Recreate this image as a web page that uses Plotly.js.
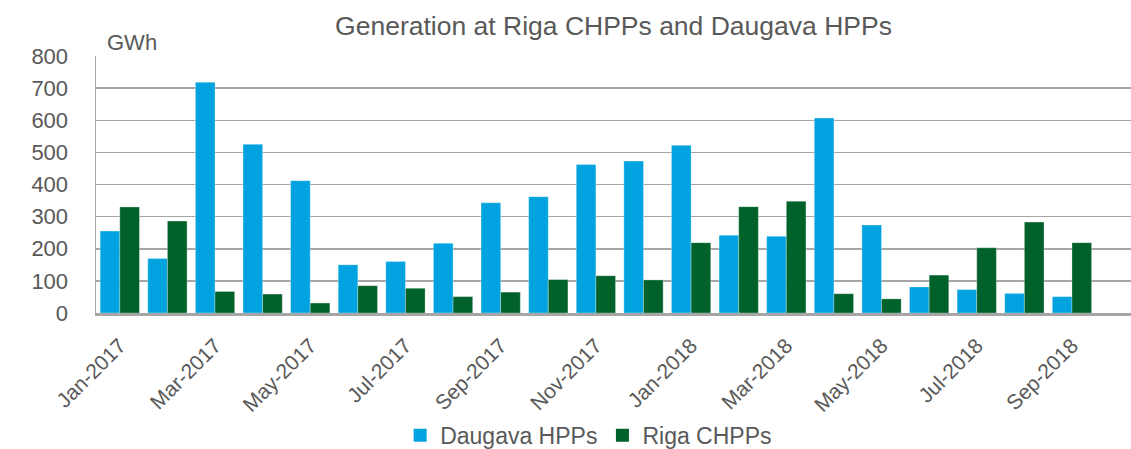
<!DOCTYPE html>
<html>
<head>
<meta charset="utf-8">
<script src="https://cdn.plot.ly/plotly-3.0.1.min.js"></script>
<style>html,body{margin:0;padding:0;background:#fff;}#chart{width:1131px;height:449px;}</style>
</head>
<body>
<div id="chart"></div>
<script>
const months = ["Jan-2017","Feb-2017","Mar-2017","Apr-2017","May-2017","Jun-2017","Jul-2017","Aug-2017","Sep-2017","Oct-2017","Nov-2017","Dec-2017","Jan-2018","Feb-2018","Mar-2018","Apr-2018","May-2018","Jun-2018","Jul-2018","Aug-2018","Sep-2018"];
const daugavaHPPs = [255,170,718,525,412,150,160,217,343,362,462,473,522,242,239,607,274,81,73,61,51];
const rigaCHPPs = [330,286,67,59,31,85,77,51,65,104,116,103,219,331,348,60,44,118,203,283,219];
const tickLabels = ["Jan-2017","Mar-2017","May-2017","Jul-2017","Sep-2017","Nov-2017","Jan-2018","Mar-2018","May-2018","Jul-2018","Sep-2018"];
const yTicks = [0,100,200,300,400,500,600,700,800];
const seriesNames = ["Daugava HPPs","Riga CHPPs"];
const seriesColors = ["#00a3e0","#00612a"];

const txt = '#595959';
const font = 'Liberation Sans, Arial, sans-serif';

const values = [daugavaHPPs, rigaCHPPs];
const data = [];
values.forEach((v,i)=>{
  data.push({type:'bar', name:seriesNames[i], x:months, y:v, showlegend:false,
   marker:{color:seriesColors[i], line:{color:'rgba(255,255,255,0.5)', width:0.6}}});
});
values.forEach((v,i)=>{
  data.push({type:'scatter', mode:'markers', name:seriesNames[i], x:[null], y:[null], showlegend:true,
   marker:{symbol:'square', size:13, color:seriesColors[i]}});
});

const layout = {
  width:1131, height:449,
  margin:{l:96, r:0, t:56, b:135.5, pad:0, autoexpand:false},
  paper_bgcolor:'#fff', plot_bgcolor:'#fff',
  barmode:'group', bargap:0.175, bargroupgap:0,
  font:{family:font, color:txt},
  title:{text:'Generation at Riga CHPPs and Daugava HPPs', font:{size:26.5, color:txt, family:font},
         x:0.5, xref:'paper', xanchor:'center', y:1-26/449, yref:'container', yanchor:'middle'},
  xaxis:{type:'category', range:[-0.5, 21.24], tickmode:'array', tickvals:tickLabels, ticktext:tickLabels,
         tickangle:-45, tickfont:{size:21, color:txt}, showgrid:false, showline:true, automargin:false,
         ticklabelstandoff:9,
         linecolor:'#a6a6a6', linewidth:3, ticks:'', zeroline:false, fixedrange:true},
  yaxis:{range:[0,800], tickvals:yTicks, tickfont:{size:22, color:txt}, showgrid:true, automargin:false,
         gridcolor:'#a6a6a6', gridwidth:1.5, showline:true, linecolor:'#a6a6a6', linewidth:1.5,
         ticks:'outside', ticklen:22, tickcolor:'rgba(0,0,0,0)', zeroline:false, fixedrange:true},
  showlegend:true,
  legend:{orientation:'h', x:0.476, xanchor:'center', y:-0.476, yanchor:'middle',
          font:{size:23, color:txt}, itemwidth:20, traceorder:'normal'},
  annotations:[{text:'GWh', xref:'paper', yref:'paper', x:(105-96)/1035, y:(313.5-42)/257.5,
                xanchor:'left', yanchor:'middle', showarrow:false, font:{size:22, color:txt}}]
};

Plotly.newPlot('chart', data, layout, {displayModeBar:false, staticPlot:true});
</script>
</body>
</html>
